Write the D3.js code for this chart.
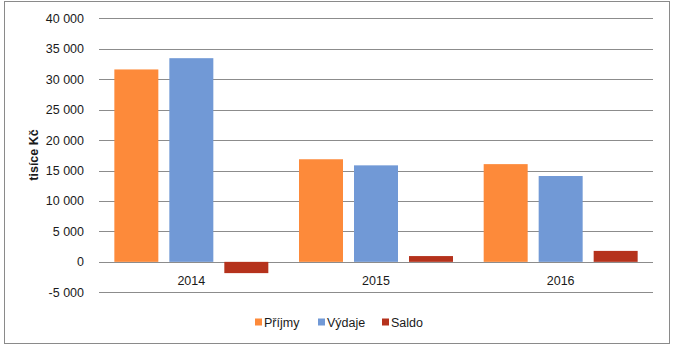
<!DOCTYPE html>
<html><head><meta charset="utf-8">
<script src="https://cdn.jsdelivr.net/npm/d3@7"></script>
<style>body{margin:0;background:#fff;}svg{display:block;font-family:"Liberation Sans","DejaVu Sans",sans-serif;}</style>
</head><body>
<svg id="c" width="674" height="347"></svg>
<script>
const categories = ["2014", "2015", "2016"];
const seriesNames = ["Příjmy", "Výdaje", "Saldo"];
const prijmy = [31600, 16850, 16050];
const vydaje = [33450, 15850, 14100];
const saldo = [-1850, 950, 1800];
const yTicks = [-5000, 0, 5000, 10000, 15000, 20000, 25000, 30000, 35000, 40000];
const colors = ["#FD8A3A", "#7199D6", "#B5321C"];
const yTitle = "tisíce Kč";

const values = [prijmy, vydaje, saldo];
const svg = d3.select("#c");
const L = 99, R = 653, T = 18.3, B = 292.3;

svg.append("rect").attr("x", 4.5).attr("y", 1.5).attr("width", 665).attr("height", 342)
  .attr("fill", "#fff").attr("stroke", "#8a8a8a").attr("stroke-width", 1);

const y = d3.scaleLinear().domain([-5000, 40000]).range([B, T]);
const x0 = d3.scaleBand().domain(categories).range([L, R]).padding(0);
const x1 = d3.scaleBand().domain(seriesNames).range([0, x0.bandwidth()]).paddingInner(0.2).paddingOuter(0.279);

const fmt = v => {
  const s = d3.format(",")(Math.abs(v)).replace(/,/g, " ");
  return (v < 0 ? "-" : "") + s;
};

// gridlines
svg.append("g").selectAll("line").data(yTicks).join("line")
  .attr("x1", L).attr("x2", R)
  .attr("y1", d => Math.round(y(d)) + 0.5).attr("y2", d => Math.round(y(d)) + 0.5)
  .attr("stroke", "#8c8c8c").attr("stroke-width", 1);

// y tick labels
svg.append("g").selectAll("text").data(yTicks).join("text")
  .attr("x", 84).attr("y", d => y(d)).attr("dy", "0.36em")
  .attr("text-anchor", "end").attr("font-size", 12.5).attr("fill", "#1a1a1a")
  .text(fmt);

// bars
const g = svg.append("g");
categories.forEach((c, i) => {
  seriesNames.forEach((s, j) => {
    const v = values[j][i];
    g.append("rect")
      .attr("x", x0(c) + x1(s))
      .attr("width", x1.bandwidth())
      .attr("y", y(Math.max(0, v)))
      .attr("height", Math.abs(y(v) - y(0)))
      .attr("fill", colors[j]);
  });
});

// category labels
svg.append("g").selectAll("text").data(categories).join("text")
  .attr("x", d => x0(d) + x0.bandwidth() / 2).attr("y", 285)
  .attr("text-anchor", "middle").attr("font-size", 12.5).attr("fill", "#1a1a1a")
  .text(d => d);

// y title
svg.append("text").attr("transform", "translate(38,155) rotate(-90)")
  .attr("text-anchor", "middle").attr("font-size", 12.5).attr("font-weight", "bold").attr("fill", "#1a1a1a")
  .text(yTitle);

// legend
const legX = [255, 318, 382];
const lg = svg.append("g");
seriesNames.forEach((s, j) => {
  lg.append("rect").attr("x", legX[j]).attr("y", 318.5).attr("width", 7).attr("height", 7).attr("fill", colors[j]);
  lg.append("text").attr("x", legX[j] + 9).attr("y", 322).attr("dy", "0.36em")
    .attr("font-size", 12.5).attr("fill", "#1a1a1a").text(s);
});
</script>
</body></html>
